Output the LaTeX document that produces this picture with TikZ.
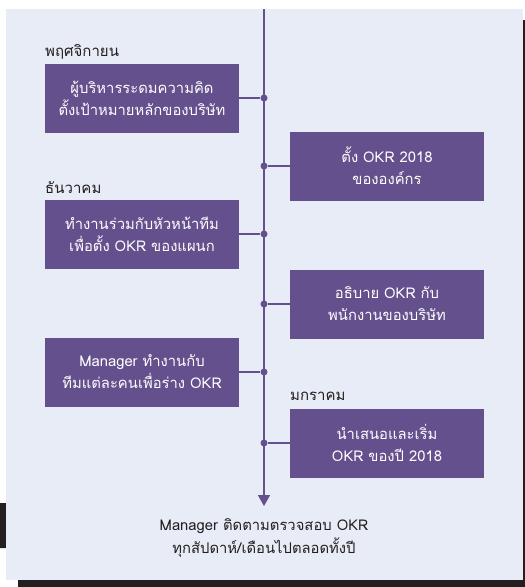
\documentclass[tikz,border=0pt]{standalone}
\usepackage{fontspec}
\newfontfamily\thaifont[Script=Thai]{Loma}
\usetikzlibrary{arrows.meta}
\definecolor{okrpurple}{RGB}{100,80,140}
\definecolor{okrpanel}{RGB}{232,236,247}
\definecolor{okrdark}{RGB}{35,31,32}

\begin{document}
\begin{tikzpicture}[x=1pt,y=-1pt,>=Stealth,
    stepbox/.style={fill=okrpurple,text=white,minimum width=194pt,minimum height=69pt,
        align=center,font=\thaifont\fontsize{14.8}{22}\selectfont,inner sep=0pt},
    month/.style={anchor=west,text=okrdark,font=\thaifont\fontsize{15}{16}\selectfont,inner sep=0pt},
    dot/.style={circle,fill=okrpurple,minimum size=7pt,inner sep=0pt},
    link/.style={okrpurple,line width=1.7pt}]
    \useasboundingbox (0,0) rectangle (525,587);
    \fill[okrdark] (18,20) rectangle (525,587)
        (0,503) rectangle (6,548);
    \fill[okrpanel] (6,9) rectangle (523,580);

    \coordinate (top) at (264,9);
    \coordinate (end) at (264,506);
    \draw[link,-{Triangle[length=11pt,width=12pt]}] (top) -- (end);

    \node[stepbox] (s1) at (142,98) {ผู้บริหารระดมความคิด\\ตั้งเป้าหมายหลักของบริษัท};
    \node[stepbox] (s2) at (387,166) {ตั้ง OKR 2018\\ขององค์กร};
    \node[stepbox] (s3) at (142,234) {ทำงานร่วมกับหัวหน้าทีม\\เพื่อตั้ง OKR ของแผนก};
    \node[stepbox] (s4) at (387,304) {อธิบาย OKR กับ\\พนักงานของบริษัท};
    \node[stepbox] (s5) at (142,372) {Manager ทำงานกับ\\ทีมแต่ละคนเพื่อร่าง OKR};
    \node[stepbox] (s6) at (387,443) {นำเสนอและเริ่ม\\OKR ของปี 2018};

    \node[month] (nov) at (45,52) {พฤศจิกายน};
    \node[month] (dec) at (45,188) {ธันวาคม};
    \node[month] (jan) at (290,396) {มกราคม};

    \foreach \i/\y in {1/98,2/166,3/234,4/304,5/372,6/443}
        \node[dot] (d\i) at (264,\y) {};
    \foreach \i in {1,...,6}
        \draw[link] (s\i) -- (d\i);

    \node[align=center,text=okrdark,font=\thaifont\fontsize{14.8}{23}\selectfont] (follow) at (264,538)
        {Manager ติดตามตรวจสอบ OKR\\ทุกสัปดาห์/เดือนไปตลอดทั้งปี};
\end{tikzpicture}
\end{document}
